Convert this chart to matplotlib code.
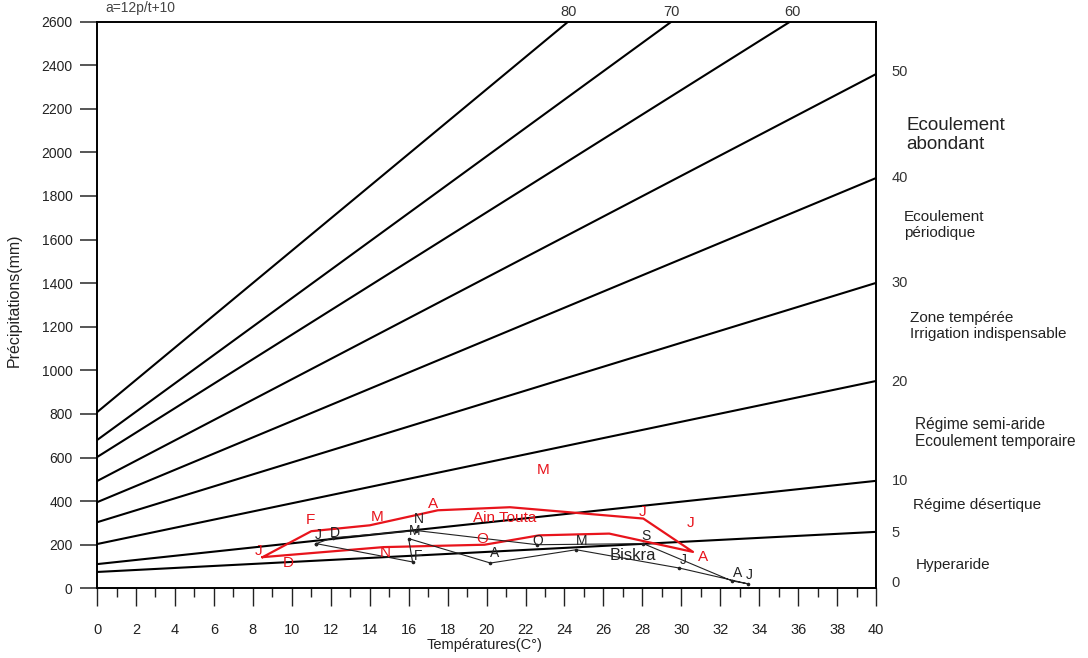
import matplotlib.pyplot as plt

plt.rcParams['font.family'] = ['Liberation Sans', 'DejaVu Sans']

# droites d'indice (a = 12p/(t+10)), precipitations lues a t=0 et t=40
indices = [80, 70, 60, 50, 40, 30, 20, 10, 5]
p_t0 = [808, 680, 602, 492, 395, 303, 203, 111, 75]
p_t40 = [3770, 3283, 2847, 2359, 1882, 1401, 951, 493, 259]

# Ain Touta (trace rouge)
ain_t = [8.5, 11.0, 14.0, 17.5, 21.2, 28.05, 30.6, 26.3, 22.7, 19.9, 14.7, 8.5]
ain_p = [143, 262, 289, 358, 372, 320, 167, 251, 243, 200, 189, 143]
ain_lab = ['J', 'F', 'M', 'A', 'M', 'J', 'J', 'A', 'O', 'N', 'D']
ain_lab_t = [8.27, 10.94, 14.4, 17.25, 22.9, 28.0, 30.45, 31.1, 19.8, 14.8, 9.8]
ain_lab_p = [170, 312, 326, 385, 541, 349, 298, 142, 225, 161, 115]

# Biskra (trace noir)
bis_t = [11.25, 16.2, 16.0, 20.2, 24.6, 29.9, 33.4, 32.6, 28.05, 22.6, 16.4, 12.1, 11.25]
bis_p = [205, 121, 228, 116, 177, 93, 21, 34, 205, 200, 265, 232, 205]
bis_lab = ['J', 'D', 'N', 'M', 'F', 'A', 'O', 'M', 'S', 'J', 'A', 'J']
bis_lab_t = [11.35, 12.2, 16.5, 16.3, 16.5, 20.4, 22.65, 24.9, 28.2, 30.1, 32.9, 33.5]
bis_lab_p = [243, 252, 318, 262, 147, 161, 216, 216, 239, 128, 69, 60]

zones = ['Ecoulement\nabondant', 'Ecoulement\npériodique',
         'Zone tempérée\nIrrigation indispensable',
         'Régime semi-aride\nEcoulement temporaire',
         'Régime désertique', 'Hyperaride']

fig = plt.figure(figsize=(10.88, 6.58), dpi=100)
ax = fig.add_axes([0.0892, 0.1059, 0.7160, 0.8614])

for i, a, b in zip(indices, p_t0, p_t40):
    ax.plot([0, 40], [a, b], color='black', lw=1.5, solid_capstyle='butt')

ax.plot(ain_t, ain_p, color='#e8141c', lw=1.6)
ax.plot(bis_t, bis_p, color='#222222', lw=0.8, marker='o', ms=1.6)

for s, t, p in zip(ain_lab, ain_lab_t, ain_lab_p):
    ax.text(t, p, s, color='#e8141c', fontsize=11, ha='center', va='center')
ax.text(20.95, 321, 'Ain Touta', color='#e8141c', fontsize=11, ha='center', va='center')

for s, t, p in zip(bis_lab, bis_lab_t, bis_lab_p):
    ax.text(t, p, s, color='#222222', fontsize=10, ha='center', va='center')
ax.text(27.5, 151, 'Biskra', color='#222222', fontsize=12, ha='center', va='center')

# etiquettes des droites
for s, t in zip(['80', '70', '60'], [24.2, 29.5, 35.7]):
    ax.text(t, 2645, s, fontsize=10.5, color='#333333', ha='center', va='center', clip_on=False)
for s, p in zip(['50', '40', '30', '20', '10', '5', '0'], [2368, 1882, 1401, 947, 493, 254, 24]):
    ax.text(40.8, p, s, fontsize=10.5, color='#333333', ha='left', va='center', clip_on=False)

ax.set_xlim(0, 40)
ax.set_ylim(0, 2600)
ax.set_xticks(range(0, 41, 2))
ax.set_xticks(range(0, 41, 1), minor=True)
ax.set_yticks(range(0, 2601, 200))
ax.tick_params(axis='x', which='major', length=13, width=1, pad=12, labelsize=10.5, colors='#222222')
ax.tick_params(axis='x', which='minor', length=6.5, width=1, colors='#222222')
ax.tick_params(axis='y', length=12.5, width=1.4, pad=5, labelsize=10, colors='#555555', labelcolor='#222222')
for side in ['left', 'right', 'top', 'bottom']:
    ax.spines[side].set_linewidth(1.4)
    ax.spines[side].set_color('black')

# textes hors du cadre
fig.text(14 / 1088, 1 - 300 / 658, 'Précipitations(mm)', rotation=90, fontsize=11.5,
         color='#222222', ha='center', va='center')
fig.text(485 / 1088, 1 - 645 / 658, 'Températures(C°)', fontsize=10.5,
         color='#222222', ha='center', va='center')
fig.text(140 / 1088, 1 - 8 / 658, 'a=12p/t+10', fontsize=10, color='#444444',
         ha='center', va='center')

zone_x = [906, 904, 910, 915, 913, 916]
zone_y = [135, 225, 326, 433, 505, 565]
zone_fs = [13.5, 11, 11, 11.2, 11, 11]
for s, x, y, fs in zip(zones, zone_x, zone_y, zone_fs):
    fig.text(x / 1088, 1 - y / 658, s, fontsize=fs, color='#222222',
             ha='left', va='center', linespacing=1.2)

fig.savefig('out.png', dpi=100)
